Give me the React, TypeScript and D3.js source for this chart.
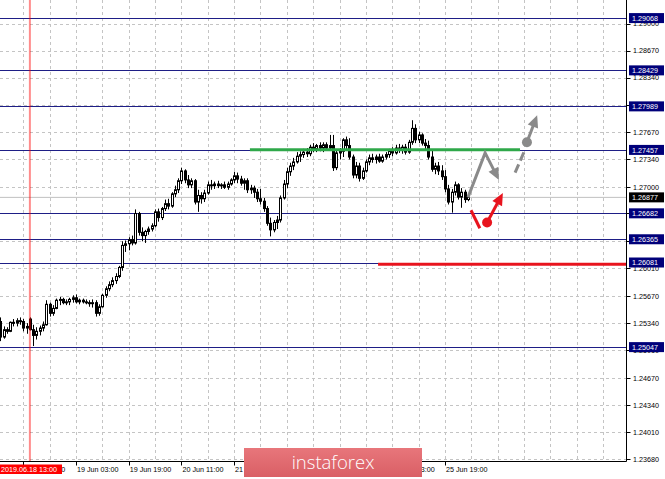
import React from "react";
import * as d3 from "d3";

// ---- data ----
const ohlc: number[][] = [
  [1.2536,1.2541,1.2512,1.2517],[1.2517,1.2530,1.2515,1.2526],[1.2526,1.2529,1.2521,1.2524],[1.2524,1.2536,1.2523,1.2535],
  [1.2535,1.2539,1.2530,1.2534],[1.2534,1.2540,1.2530,1.2537],[1.2537,1.2541,1.2532,1.2536],[1.2536,1.2539,1.2524,1.2528],
  [1.2528,1.2534,1.2521,1.2530],[1.2539,1.2541,1.2525,1.2526],[1.2526,1.2532,1.2506,1.2519],[1.2519,1.2529,1.2514,1.2524],
  [1.2524,1.2531,1.2519,1.2528],[1.2528,1.2536,1.2524,1.2532],[1.2532,1.2562,1.2531,1.2557],[1.2557,1.2559,1.2542,1.2546],
  [1.2546,1.2556,1.2543,1.2552],[1.2552,1.2564,1.2551,1.2562],[1.2562,1.2566,1.2556,1.2563],[1.2563,1.2565,1.2557,1.2559],
  [1.2559,1.2563,1.2556,1.2560],[1.2560,1.2565,1.2556,1.2563],[1.2563,1.2568,1.2559,1.2565],[1.2565,1.2569,1.2558,1.2560],
  [1.2560,1.2564,1.2557,1.2562],[1.2562,1.2564,1.2558,1.2560],[1.2560,1.2563,1.2557,1.2559],[1.2559,1.2562,1.2554,1.2558],
  [1.2558,1.2563,1.2553,1.2559],[1.2559,1.2562,1.2542,1.2546],[1.2546,1.2557,1.2543,1.2554],[1.2554,1.2570,1.2553,1.2568],
  [1.2568,1.2579,1.2565,1.2576],[1.2576,1.2585,1.2573,1.2581],[1.2581,1.2590,1.2578,1.2586],[1.2586,1.2595,1.2582,1.2591],
  [1.2591,1.2604,1.2589,1.2602],[1.2602,1.2634,1.2598,1.2629],[1.2629,1.2635,1.2621,1.2631],[1.2631,1.2639,1.2623,1.2636],
  [1.2636,1.2641,1.2629,1.2632],[1.2632,1.2673,1.2630,1.2668],[1.2668,1.2670,1.2641,1.2645],[1.2645,1.2651,1.2634,1.2641],
  [1.2641,1.2648,1.2632,1.2646],[1.2646,1.2652,1.2642,1.2649],[1.2649,1.2656,1.2646,1.2653],[1.2653,1.2673,1.2651,1.2670],
  [1.2670,1.2674,1.2658,1.2663],[1.2663,1.2676,1.2660,1.2674],[1.2674,1.2685,1.2671,1.2680],[1.2680,1.2686,1.2673,1.2677],
  [1.2677,1.2694,1.2675,1.2692],[1.2692,1.2702,1.2688,1.2697],[1.2697,1.2711,1.2693,1.2708],[1.2708,1.2724,1.2704,1.2720],
  [1.2720,1.2722,1.2705,1.2709],[1.2709,1.2715,1.2699,1.2703],[1.2703,1.2711,1.2699,1.2708],[1.2708,1.2710,1.2679,1.2682],
  [1.2682,1.2697,1.2670,1.2690],[1.2690,1.2694,1.2680,1.2686],[1.2686,1.2697,1.2682,1.2693],[1.2693,1.2707,1.2691,1.2703],
  [1.2703,1.2709,1.2697,1.2702],[1.2702,1.2707,1.2698,1.2704],[1.2704,1.2708,1.2699,1.2702],[1.2702,1.2705,1.2698,1.2703],
  [1.2703,1.2707,1.2698,1.2700],[1.2700,1.2707,1.2697,1.2704],[1.2704,1.2711,1.2702,1.2709],[1.2709,1.2719,1.2705,1.2714],
  [1.2714,1.2718,1.2705,1.2710],[1.2710,1.2714,1.2702,1.2705],[1.2705,1.2711,1.2697,1.2708],[1.2708,1.2711,1.2693,1.2697],
  [1.2697,1.2703,1.2692,1.2699],[1.2699,1.2702,1.2687,1.2694],[1.2694,1.2698,1.2682,1.2686],[1.2686,1.2698,1.2679,1.2683],
  [1.2683,1.2687,1.2670,1.2674],[1.2674,1.2677,1.2653,1.2656],[1.2656,1.2663,1.2640,1.2648],[1.2648,1.2660,1.2645,1.2657],
  [1.2657,1.2665,1.2649,1.2660],[1.2660,1.2690,1.2657,1.2687],[1.2687,1.2709,1.2685,1.2704],[1.2704,1.2724,1.2699,1.2719],
  [1.2719,1.2730,1.2714,1.2726],[1.2726,1.2736,1.2721,1.2731],[1.2731,1.2743,1.2729,1.2738],[1.2738,1.2744,1.2731,1.2740],
  [1.2740,1.2747,1.2736,1.2743],[1.2743,1.2748,1.2737,1.2741],[1.2741,1.2752,1.2738,1.2749],[1.2749,1.2754,1.2743,1.2747],
  [1.2747,1.2753,1.2743,1.2751],[1.2751,1.2755,1.2744,1.2748],[1.2748,1.2755,1.2743,1.2752],[1.2752,1.2755,1.2746,1.2748],
  [1.2748,1.2764,1.2746,1.2751],[1.2751,1.2764,1.2720,1.2724],[1.2724,1.2746,1.2721,1.2742],[1.2742,1.2748,1.2734,1.2744],
  [1.2744,1.2760,1.2737,1.2758],[1.2758,1.2762,1.2746,1.2751],[1.2751,1.2760,1.2734,1.2737],[1.2737,1.2740,1.2711,1.2715],
  [1.2715,1.2731,1.2711,1.2726],[1.2726,1.2730,1.2707,1.2711],[1.2711,1.2724,1.2709,1.2720],[1.2720,1.2734,1.2718,1.2731],
  [1.2731,1.2740,1.2727,1.2736],[1.2736,1.2741,1.2730,1.2734],[1.2734,1.2740,1.2729,1.2737],[1.2737,1.2741,1.2730,1.2732],
  [1.2732,1.2740,1.2730,1.2737],[1.2737,1.2743,1.2734,1.2740],[1.2740,1.2747,1.2736,1.2744],[1.2744,1.2749,1.2738,1.2742],
  [1.2742,1.2752,1.2740,1.2748],[1.2748,1.2753,1.2742,1.2746],[1.2746,1.2752,1.2741,1.2749],[1.2749,1.2753,1.2740,1.2743],
  [1.2743,1.2758,1.2741,1.2755],[1.2755,1.2782,1.2752,1.2772],[1.2772,1.2777,1.2754,1.2758],[1.2758,1.2768,1.2754,1.2764],
  [1.2764,1.2766,1.2751,1.2754],[1.2754,1.2759,1.2746,1.2751],[1.2751,1.2757,1.2734,1.2737],[1.2737,1.2746,1.2719,1.2722],
  [1.2722,1.2730,1.2716,1.2726],[1.2726,1.2731,1.2715,1.2720],[1.2720,1.2727,1.2709,1.2713],[1.2713,1.2721,1.2694,1.2698],
  [1.2698,1.2703,1.2679,1.2682],[1.2682,1.2698,1.2669,1.2694],[1.2694,1.2707,1.2690,1.2703],[1.2703,1.2705,1.2685,1.2688],
  [1.2688,1.2699,1.2675,1.2694],[1.2694,1.2697,1.2681,1.2685],[1.2685,1.2691,1.2683,1.26877],
];

const priceTicks = [1.29, 1.2867, 1.2834, 1.2801, 1.2767, 1.2734, 1.27, 1.2668, 1.2634, 1.2601, 1.2567, 1.2534, 1.2501, 1.2467, 1.2434, 1.2401, 1.2368];
const levelPrices = [1.29068, 1.28429, 1.27989, 1.27457, 1.26682, 1.26365, 1.26081, 1.25047];
const bidPrice = 1.26877;
const timeTickBars = [7, 23, 39, 55, 71, 87, 103, 119, 135];
const timeTickLabels = ["18 Jun 11:00", "19 Jun 03:00", "19 Jun 19:00", "20 Jun 11:00", "21 Jun 03:00", "21 Jun 19:00", "24 Jun 11:00", "25 Jun 03:00", "25 Jun 19:00"];
const markerBar = 9;
const markerLabel = "2019.06.18 13:00";
const greenLevel = { from: 75.8, to: 157.8, price: 1.2746 };
const redLevel = { from: 114.7, to: 190, price: 1.2606 };
const grayPath = [[142, 1.26877], [147.2, 1.2742], [151.4, 1.2709]];
const grayDash = [[156.3, 1.2718], [159, 1.2743]];
const grayDot = [159.9, 1.2755];
const grayTip = [163, 1.2788];
const redStroke = [[142.9, 1.2672], [145.6, 1.2650]];
const redDot = [147.8, 1.2657];
const redTip = [152.6, 1.2693];

const W = 665, H = 479;
const PR = 626.5, PB = 461.5;
const FONT = "Liberation Sans, Arial, sans-serif";
const LOGO = { x: 244, y: 448, w: 178, h: 29 };
const TIME_LABEL_W = 42;

const x = d3.scaleLinear().domain([0, 190]).range([0.24, 0.24 + 190 * 3.294]);
const y = d3.scaleLinear().domain([1.23643, 1.29289]).range([462, 0]);

function arrowHead(x1: number, y1: number, x2: number, y2: number, len = 11, half = 5) {
  const a = Math.atan2(y2 - y1, x2 - x1);
  const bx = x2 - len * Math.cos(a), by = y2 - len * Math.sin(a);
  const px = -Math.sin(a) * half, py = Math.cos(a) * half;
  return `${x2},${y2} ${bx + px},${by + py} ${bx - px},${by - py}`;
}
function shorten(x1: number, y1: number, x2: number, y2: number, d: number) {
  const a = Math.atan2(y2 - y1, x2 - x1);
  return [x2 - d * Math.cos(a), y2 - d * Math.sin(a)];
}

export default function App() {
  const vGrid = d3.range(7, 191, 8);
  const gp = grayPath.map(([b, p]) => [x(b), y(p)]);
  const [gsx, gsy] = shorten(gp[1][0], gp[1][1], gp[2][0], gp[2][1], 8);
  const gd = [x(grayDot[0]), y(grayDot[1])];
  const gt = [x(grayTip[0]), y(grayTip[1])];
  const [gtx, gty] = shorten(gd[0], gd[1], gt[0], gt[1], 8);
  const rd = [x(redDot[0]), y(redDot[1])];
  const rt = [x(redTip[0]), y(redTip[1])];
  const [rtx, rty] = shorten(rd[0], rd[1], rt[0], rt[1], 8);
  const gray = "#8a8a8a";
  const red = "#e8141e";

  // price labels fully covered by a level label box are not drawn (as in the terminal)
  const shownPriceTicks = priceTicks.filter((p) => !levelPrices.some((l) => Math.abs(y(l) - y(p)) < 2.5));
  // time labels entirely hidden under the logo are not drawn
  const shownTimeTicks = timeTickBars
    .map((b, i) => ({ b, label: timeTickLabels[i] }))
    .filter(({ b }) => !(x(b) >= LOGO.x - 2 && x(b) + TIME_LABEL_W <= LOGO.x + LOGO.w));

  return (
    <svg width={W} height={H} style={{ position: "absolute", left: 0, top: 0, background: "#fff" }} fontFamily={FONT}>
      <rect width={W} height={H} fill="#fff" />
      {priceTicks.map((p, i) => (
        <line key={"hg" + i} x1={0} x2={PR} y1={Math.round(y(p)) + 0.5} y2={Math.round(y(p)) + 0.5} stroke="#c4c4c4" strokeDasharray="3,3" />
      ))}
      {vGrid.map((b) => (
        <line key={"vg" + b} x1={Math.round(x(b)) + 0.5} x2={Math.round(x(b)) + 0.5} y1={0} y2={PB} stroke="#c4c4c4" strokeDasharray="3,3" />
      ))}
      <line x1={0} x2={PR} y1={y(bidPrice)} y2={y(bidPrice)} stroke="#c0c0c0" strokeWidth={1} />
      {levelPrices.map((p, i) => (
        <line key={"lv" + i} x1={0} x2={PR} y1={Math.round(y(p)) + 0.5} y2={Math.round(y(p)) + 0.5} stroke="#1e1e86" strokeWidth={1} />
      ))}
      {ohlc.map(([o, h, l, c], i) => {
        const cx = Math.round(x(i)) + 0.5;
        const yo = y(o), yc = y(c);
        const top = Math.min(yo, yc);
        const hh = Math.max(1, Math.abs(yo - yc));
        const bull = c >= o;
        return (
          <g key={"c" + i}>
            <line x1={cx} x2={cx} y1={y(h)} y2={y(l)} stroke="#000" strokeWidth={1} />
            <rect x={cx - 1} y={top} width={2} height={hh} fill={bull ? "#fff" : "#000"} stroke="#000" strokeWidth={1} />
          </g>
        );
      })}
      <line x1={x(markerBar)} x2={x(markerBar)} y1={0} y2={PB} stroke="#ff0000" strokeOpacity={0.45} strokeWidth={2} />
      <line x1={x(greenLevel.from)} x2={x(greenLevel.to)} y1={y(greenLevel.price)} y2={y(greenLevel.price)} stroke="#2fa84a" strokeWidth={3} />
      <line x1={x(redLevel.from)} x2={x(redLevel.to)} y1={y(redLevel.price)} y2={y(redLevel.price)} stroke={red} strokeWidth={3} />
      <polyline points={`${gp[0][0]},${gp[0][1]} ${gp[1][0]},${gp[1][1]} ${gsx},${gsy}`} fill="none" stroke={gray} strokeWidth={3} strokeLinejoin="miter" />
      <polygon points={arrowHead(gp[1][0], gp[1][1], gp[2][0], gp[2][1], 12, 5.5)} fill={gray} />
      <line x1={x(grayDash[0][0])} y1={y(grayDash[0][1])} x2={x(grayDash[1][0])} y2={y(grayDash[1][1])} stroke={gray} strokeWidth={3} strokeDasharray="9,4" />
      <line x1={gd[0]} y1={gd[1]} x2={gtx} y2={gty} stroke={gray} strokeWidth={3} />
      <polygon points={arrowHead(gd[0], gd[1], gt[0], gt[1], 12, 5.5)} fill={gray} />
      <circle cx={gd[0]} cy={gd[1]} r={5} fill={gray} />
      <line x1={x(redStroke[0][0])} y1={y(redStroke[0][1])} x2={x(redStroke[1][0])} y2={y(redStroke[1][1])} stroke={red} strokeWidth={3} />
      <line x1={rd[0]} y1={rd[1]} x2={rtx} y2={rty} stroke={red} strokeWidth={3} />
      <polygon points={arrowHead(rd[0], rd[1], rt[0], rt[1], 12, 5.5)} fill={red} />
      <circle cx={rd[0]} cy={rd[1]} r={5} fill={red} />
      <line x1={PR} x2={PR} y1={0} y2={PB} stroke="#000" />
      <line x1={0} x2={PR} y1={PB} y2={PB} stroke="#000" />
      {priceTicks.map((p, i) => (
        <line key={"ptk" + i} x1={PR} x2={PR + 4} y1={Math.round(y(p)) + 0.5} y2={Math.round(y(p)) + 0.5} stroke="#000" />
      ))}
      {shownPriceTicks.map((p, i) => (
        <text key={"pt" + i} x={633} y={y(p) + 2.6} fontSize={7.2} fill="#000">{p.toFixed(5)}</text>
      ))}
      {levelPrices.map((p, i) => (
        <g key={"ll" + i}>
          <rect x={629} y={y(p) - 5} width={35} height={10} fill="#00007a" />
          <text x={632} y={y(p) + 2.6} fontSize={7.2} fill="#fff">{p.toFixed(5)}</text>
        </g>
      ))}
      <rect x={629} y={y(bidPrice) - 5} width={35} height={10} fill="#000" />
      <text x={632} y={y(bidPrice) + 2.6} fontSize={7.2} fill="#fff">{bidPrice.toFixed(5)}</text>
      {timeTickBars.map((b, i) => (
        <line key={"ttk" + i} x1={Math.round(x(b)) + 0.5} x2={Math.round(x(b)) + 0.5} y1={PB} y2={PB + 4} stroke="#000" />
      ))}
      {shownTimeTicks.map(({ b, label }) => (
        <text key={"tt" + b} x={x(b) + 1} y={472} fontSize={7.2} fill="#000">{label}</text>
      ))}
      <rect x={0} y={464.5} width={62} height={9.5} fill="#ff0000" />
      <text x={1} y={472} fontSize={7.2} fill="#fff">{markerLabel}</text>
      <defs>
        <linearGradient id="logoGrad" x1="0" y1="0" x2="0" y2="1">
          <stop offset="0" stopColor="#e8767b" />
          <stop offset="1" stopColor="#d95f65" />
        </linearGradient>
      </defs>
      <rect x={LOGO.x} y={LOGO.y} width={LOGO.w} height={LOGO.h} fill="url(#logoGrad)" />
      <text x={LOGO.x + LOGO.w / 2} y={469} fontSize={18.5} fill="#fff" textAnchor="middle" fontFamily="Open Sans, sans-serif" fontWeight={300}>instaforex</text>
    </svg>
  );
}
